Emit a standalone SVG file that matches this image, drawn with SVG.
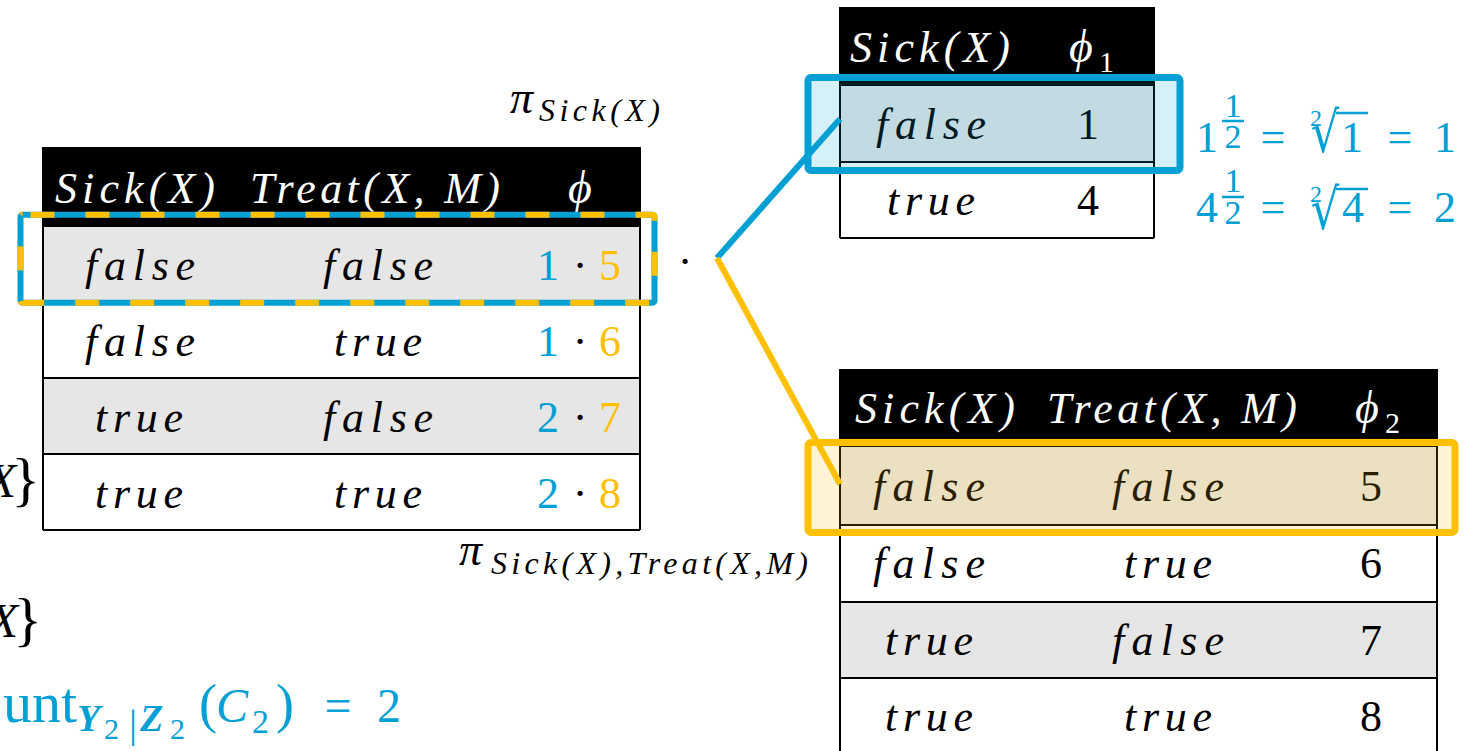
<svg xmlns="http://www.w3.org/2000/svg" width="1468" height="751" viewBox="0 0 1468 751">
<style>
.mi{font-family:"Liberation Serif","DejaVu Serif",serif;font-style:italic;fill:#000}
.num{font-family:"Liberation Serif","DejaVu Serif",serif;fill:#000}
.rad{font-family:"DejaVu Sans",sans-serif;fill:#00A0D5}
text.hd{fill:#fff}
text.blue{fill:#00A0D5}
text.yel{fill:#FFC000}
.grid{stroke:#000;stroke-width:2;fill:none}
.gray{fill:#E7E6E6}
.wht{fill:#fff}
.bar{stroke:#00A0D5;stroke-width:2.5}
</style>
<rect width="1468" height="751" fill="#fff"/>

<g id="left-partial">
  <text class="mi" x="16" y="497" text-anchor="end" font-size="48">X</text>
  <text class="num" x="40" y="499" text-anchor="end" font-size="60">}</text>
  <text class="mi" x="18" y="637" text-anchor="end" font-size="48">X</text>
  <text class="num" x="42" y="639" text-anchor="end" font-size="60">}</text>
</g>

<g id="count-formula">
  <text class="num blue" x="77" y="722" font-size="58" text-anchor="end">unt</text>
  <text class="mi blue" x="77" y="731" font-size="38" font-weight="bold">Y</text>
  <text class="num blue" x="104" y="739" font-size="30">2</text>
  <text class="num blue" x="129" y="737" font-size="40">|</text>
  <text class="mi blue" x="140" y="731" font-size="38" font-weight="bold">Z</text>
  <text class="num blue" x="170" y="739" font-size="30">2</text>
  <text class="num blue" x="199" y="722" font-size="54">(</text>
  <text class="mi blue" x="216" y="722" font-size="48">C</text>
  <text class="num blue" x="252" y="733" font-size="34">2</text>
  <text class="num blue" x="276" y="722" font-size="54">)</text>
  <text class="num blue" x="338" y="722" font-size="48" text-anchor="middle">=</text>
  <text class="num blue" x="389" y="722" font-size="48" text-anchor="middle">2</text>
</g>

<g id="table-joined" font-size="44">
  <rect x="43" y="147" width="597" height="79" fill="#000"/>
  <rect x="43" y="226" width="597" height="76" class="gray"/>
  <rect x="43" y="302" width="597" height="76" class="wht"/>
  <rect x="43" y="378" width="597" height="76" class="gray"/>
  <rect x="43" y="454" width="597" height="76" class="wht"/>
  <path class="grid" d="M43 147V530M640 147V530M43 226H640M43 302H640M43 378H640M43 454H640M43 530H640"/>
  <text class="mi hd" x="135" y="203" text-anchor="middle" textLength="160" lengthAdjust="spacing">Sick(X)</text>
  <text class="mi hd" x="375" y="203" text-anchor="middle" textLength="250" lengthAdjust="spacing">Treat(X, M)</text>
  <text class="mi hd" x="580" y="203" text-anchor="middle" font-size="46">ϕ</text>
  <text class="mi" x="140" y="280" text-anchor="middle" textLength="110" lengthAdjust="spacing">false</text>
  <text class="mi" x="378" y="280" text-anchor="middle" textLength="110" lengthAdjust="spacing">false</text>
  <text class="mi" x="140" y="356" text-anchor="middle" textLength="110" lengthAdjust="spacing">false</text>
  <text class="mi" x="378" y="356" text-anchor="middle" textLength="88" lengthAdjust="spacing">true</text>
  <text class="mi" x="139" y="432" text-anchor="middle" textLength="88" lengthAdjust="spacing">true</text>
  <text class="mi" x="378" y="432" text-anchor="middle" textLength="110" lengthAdjust="spacing">false</text>
  <text class="mi" x="139" y="508" text-anchor="middle" textLength="88" lengthAdjust="spacing">true</text>
  <text class="mi" x="378" y="508" text-anchor="middle" textLength="88" lengthAdjust="spacing">true</text>
  <g text-anchor="middle">
    <text class="num blue" x="548" y="280">1</text><text class="num" x="580" y="280">·</text><text class="num yel" x="610" y="280">5</text>
    <text class="num blue" x="548" y="356">1</text><text class="num" x="580" y="356">·</text><text class="num yel" x="610" y="356">6</text>
    <text class="num blue" x="548" y="432">2</text><text class="num" x="580" y="432">·</text><text class="num yel" x="610" y="432">7</text>
    <text class="num blue" x="548" y="508">2</text><text class="num" x="580" y="508">·</text><text class="num yel" x="610" y="508">8</text>
  </g>
  <rect x="20.5" y="214.7" width="634" height="88" rx="2" fill="none" stroke="#00A0D5" stroke-width="6"/>
  <rect x="20.5" y="214.7" width="634" height="88" rx="2" fill="none" stroke="#FFC000" stroke-width="6" stroke-dasharray="24 31" stroke-dashoffset="-8"/>
</g>

<g id="labels">
  <text class="mi" x="510" y="113" font-size="46">π</text>
  <text class="mi" x="539" y="121" font-size="32" textLength="121" lengthAdjust="spacing">Sick(X)</text>
  <text class="mi" x="459" y="565" font-size="46">π</text>
  <text class="mi" x="491" y="574" font-size="32" textLength="317" lengthAdjust="spacing">Sick(X),Treat(X,M)</text>
  <text class="num" x="685" y="276" text-anchor="middle" font-size="44">·</text>
</g>

<g id="table-phi1" font-size="44">
  <rect x="840" y="7" width="314" height="78" fill="#000"/>
  <rect x="840" y="85" width="314" height="77" class="gray"/>
  <rect x="840" y="162" width="314" height="76" class="wht"/>
  <path class="grid" d="M840 7V238M1154 7V238M840 85H1154M840 162H1154M840 238H1154"/>
  <text class="mi hd" x="930" y="62" text-anchor="middle" textLength="160" lengthAdjust="spacing">Sick(X)</text>
  <text class="mi hd" x="1081" y="62" text-anchor="middle" font-size="46">ϕ</text>
  <text class="num hd" x="1099" y="72" font-size="30">1</text>
  <text class="mi" x="931" y="139" text-anchor="middle" textLength="110" lengthAdjust="spacing">false</text>
  <text class="num" x="1088" y="139" text-anchor="middle">1</text>
  <text class="mi" x="931" y="215" text-anchor="middle" textLength="88" lengthAdjust="spacing">true</text>
  <text class="num" x="1088" y="215" text-anchor="middle">4</text>
</g>

<g id="table-phi2" font-size="44">
  <rect x="840" y="369" width="597" height="77" fill="#000"/>
  <rect x="840" y="446" width="597" height="79" class="gray"/>
  <rect x="840" y="525" width="597" height="77" class="wht"/>
  <rect x="840" y="602" width="597" height="76" class="gray"/>
  <rect x="840" y="678" width="597" height="76" class="wht"/>
  <path class="grid" d="M840 369V754M1437 369V754M840 446H1437M840 525H1437M840 602H1437M840 678H1437"/>
  <text class="mi hd" x="935" y="423" text-anchor="middle" textLength="160" lengthAdjust="spacing">Sick(X)</text>
  <text class="mi hd" x="1172" y="423" text-anchor="middle" textLength="250" lengthAdjust="spacing">Treat(X, M)</text>
  <text class="mi hd" x="1367" y="423" text-anchor="middle" font-size="46">ϕ</text>
  <text class="num hd" x="1385" y="433" font-size="30">2</text>
  <text class="mi" x="929" y="501" text-anchor="middle" textLength="112" lengthAdjust="spacing">false</text>
  <text class="mi" x="1168" y="501" text-anchor="middle" textLength="112" lengthAdjust="spacing">false</text>
  <text class="num" x="1371" y="501" text-anchor="middle">5</text>
  <text class="mi" x="929" y="578" text-anchor="middle" textLength="112" lengthAdjust="spacing">false</text>
  <text class="mi" x="1168" y="578" text-anchor="middle" textLength="88" lengthAdjust="spacing">true</text>
  <text class="num" x="1371" y="578" text-anchor="middle">6</text>
  <text class="mi" x="929" y="655" text-anchor="middle" textLength="88" lengthAdjust="spacing">true</text>
  <text class="mi" x="1168" y="655" text-anchor="middle" textLength="112" lengthAdjust="spacing">false</text>
  <text class="num" x="1371" y="655" text-anchor="middle">7</text>
  <text class="mi" x="929" y="731" text-anchor="middle" textLength="88" lengthAdjust="spacing">true</text>
  <text class="mi" x="1168" y="731" text-anchor="middle" textLength="88" lengthAdjust="spacing">true</text>
  <text class="num" x="1371" y="731" text-anchor="middle">8</text>
</g>

<g id="highlights">
  <rect x="808" y="77.5" width="372" height="93" rx="3" fill="#00A0D5" fill-opacity="0.16" stroke="#00A0D5" stroke-width="7"/>
  <rect x="808" y="442.5" width="647" height="90" rx="3" fill="#FFC000" fill-opacity="0.16" stroke="#FFC000" stroke-width="7"/>
</g>

<g id="connectors" stroke-width="6" fill="none">
  <line x1="717" y1="258" x2="840" y2="119" stroke="#00A0D5"/>
  <line x1="717" y1="258" x2="840" y2="484" stroke="#FFC000"/>
</g>

<g id="root-formulas" text-anchor="middle" font-size="44">
  <text class="num blue" x="1207" y="152">1</text>
  <text class="num blue" x="1233" y="117" font-size="34">1</text>
  <line class="bar" x1="1222" y1="121" x2="1244" y2="121"/>
  <text class="num blue" x="1233" y="148" font-size="34">2</text>
  <text class="num blue" x="1273" y="152">=</text>
  <text class="num blue" x="1316" y="126" font-size="24">2</text>
  <text class="rad" transform="translate(1325,152) scale(0.8,1)" font-size="56">√</text>
  <line class="bar" x1="1336" y1="113" x2="1368" y2="113"/>
  <text class="num blue" x="1352" y="152">1</text>
  <text class="num blue" x="1400" y="152">=</text>
  <text class="num blue" x="1445" y="152">1</text>

  <text class="num blue" x="1207" y="222">4</text>
  <text class="num blue" x="1233" y="192" font-size="34">1</text>
  <line class="bar" x1="1222" y1="197" x2="1244" y2="197"/>
  <text class="num blue" x="1233" y="224" font-size="34">2</text>
  <text class="num blue" x="1273" y="222">=</text>
  <text class="num blue" x="1316" y="202" font-size="24">2</text>
  <text class="rad" transform="translate(1325,229) scale(0.8,1)" font-size="56">√</text>
  <line class="bar" x1="1336" y1="189" x2="1368" y2="189"/>
  <text class="num blue" x="1353" y="222">4</text>
  <text class="num blue" x="1400" y="222">=</text>
  <text class="num blue" x="1445" y="222">2</text>
</g>
</svg>
